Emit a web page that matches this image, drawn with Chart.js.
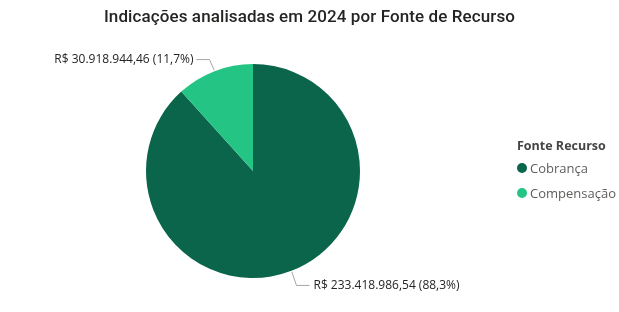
<!DOCTYPE html>
<html><head><meta charset="utf-8">
<script src="https://cdn.jsdelivr.net/npm/chart.js@4"></script>
<style>
html,body{margin:0;padding:0;background:#fff;}
#wrap{position:relative;width:619px;height:312px;overflow:hidden;}
#title{position:absolute;left:0;top:6px;width:619px;text-align:center;font-family:Roboto,"DejaVu Sans",sans-serif;font-size:17px;font-weight:500;color:#252423;letter-spacing:0.1px;}
#legend{position:absolute;left:517px;top:137px;font-family:"Open Sans","Noto Sans",sans-serif;color:#605e5c;}
#legend .lt{font-weight:bold;font-size:12.5px;color:#444;margin-bottom:1px;}
#legend .it{font-size:13px;line-height:18px;display:flex;align-items:center;height:25px;}
#legend .dot{width:10px;height:10px;border-radius:50%;display:inline-block;margin-right:3px;}
canvas{position:absolute;left:0;top:0;}
</style></head>
<body><div id="wrap">
<canvas id="c" width="619" height="312"></canvas>
<div id="title"></div>
<div id="legend"></div>
</div>
<script>
const titleText = "Indicações analisadas em 2024 por Fonte de Recurso";
const legendTitle = "Fonte Recurso";
const categories = ["Cobrança", "Compensação"];
const values = [233418986.54, 30918944.46];
const labelsText = ["R$ 233.418.986,54 (88,3%)", "R$ 30.918.944,46 (11,7%)"];
const colors = ["#0A654A", "#24C584"];

document.getElementById('title').textContent = titleText;
const lg = document.getElementById('legend');
lg.innerHTML = '<div class="lt"></div>';
lg.querySelector('.lt').textContent = legendTitle;
categories.forEach((c,i)=>{
  const d=document.createElement('div');d.className='it';
  const s=document.createElement('span');s.className='dot';s.style.background=colors[i];
  d.appendChild(s);d.appendChild(document.createTextNode(c));lg.appendChild(d);
});

const leaderPlugin = {
  id:'leader',
  afterDatasetsDraw(chart){
    const ctx=chart.ctx;
    const meta=chart.getDatasetMeta(0);
    meta.data.forEach((arc,i)=>{
      const p=arc.getProps(['x','y','startAngle','endAngle','outerRadius'],true);
      const mid=(p.startAngle+p.endAngle)/2;
      const cx=Math.cos(mid), sy=Math.sin(mid);
      const x0=p.x+cx*(p.outerRadius+1), y0=p.y+sy*(p.outerRadius+1);
      const x1=p.x+cx*(p.outerRadius+14), y1=p.y+sy*(p.outerRadius+14) + (sy<0?1.5:1.5);
      const right = cx>=0;
      const x2 = x1 + (right?13:-13);
      ctx.save();
      ctx.strokeStyle='#a6a6a6';ctx.lineWidth=1;
      ctx.beginPath();ctx.moveTo(x0,y0);ctx.lineTo(x1,y1);ctx.lineTo(x2,y1);ctx.stroke();
      ctx.fillStyle='#252423';
      ctx.font='12px "Open Sans","Noto Sans",sans-serif';
      ctx.textBaseline='middle';
      ctx.textAlign = right?'left':'right';
      ctx.fillText(labelsText[i], x2 + (right?4:-3), y1);
      ctx.restore();
    });
  }
};

new Chart(document.getElementById('c'),{
  type:'pie',
  data:{labels:categories,datasets:[{data:values,backgroundColor:colors,borderWidth:0}]},
  options:{
    responsive:false,animation:false,
    layout:{padding:{top:64,bottom:34,left:146,right:259}},
    plugins:{legend:{display:false},tooltip:{enabled:false},title:{display:false}}
  },
  plugins:[leaderPlugin]
});
</script>
</body></html>
